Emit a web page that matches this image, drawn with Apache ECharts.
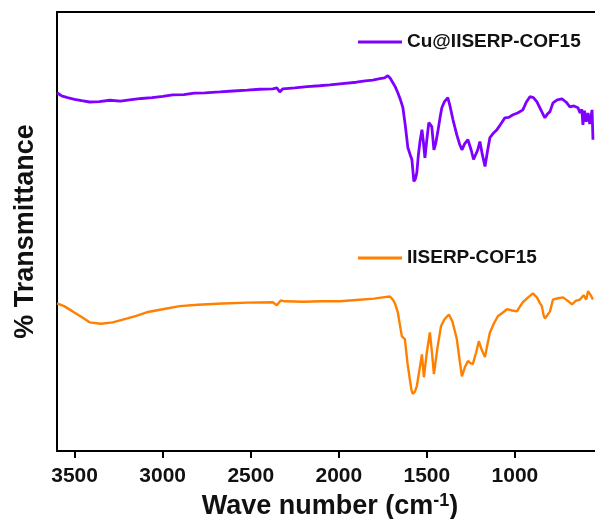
<!DOCTYPE html>
<html>
<head>
<meta charset="utf-8">
<script src="https://cdn.jsdelivr.net/npm/echarts@6/dist/echarts.min.js"></script>
<style>html,body{margin:0;padding:0;background:#fff}#c{width:595px;height:519px}</style>
</head>
<body>
<div id="c"></div>
<script>
// Cu@IISERP-COF15 spectrum (wavenumber, % transmittance, arbitrary offset)
var cuWave = [3600, 3574, 3540, 3500, 3460, 3415, 3360, 3300, 3240, 3188, 3120, 3060, 3000, 2943, 2880, 2820, 2760, 2676, 2600, 2520, 2450, 2375, 2352, 2335, 2318, 2250, 2180, 2110, 2051, 1980, 1900, 1850, 1807, 1767, 1740, 1722, 1708, 1693, 1680, 1665, 1650, 1636, 1622, 1608, 1595, 1585, 1574, 1565, 1557, 1548, 1540, 1528, 1520, 1511, 1500, 1489, 1480, 1472, 1460, 1450, 1438, 1425, 1415, 1400, 1381, 1370, 1352, 1330, 1315, 1301, 1285, 1267, 1248, 1235, 1227, 1212, 1199, 1185, 1170, 1155, 1142, 1120, 1102, 1080, 1057, 1035, 1011, 985, 955, 935, 915, 895, 875, 850, 830, 815, 801, 784, 760, 733, 710, 688, 665, 642, 630, 620, 614, 605, 595, 585, 575, 562, 557];
var cuT = [81.6, 80.9, 80.5, 80.1, 79.8, 79.5, 79.6, 79.9, 79.7, 80.0, 80.3, 80.5, 80.8, 81.1, 81.2, 81.5, 81.6, 81.8, 82.0, 82.2, 82.4, 82.5, 82.7, 81.8, 82.5, 82.7, 83.0, 83.2, 83.4, 83.7, 84.0, 84.3, 84.5, 84.8, 85.0, 85.5, 84.9, 83.9, 83.0, 81.6, 80.0, 78.2, 74.0, 69.1, 67.5, 66.4, 61.4, 62.0, 63.4, 67.5, 70.2, 73.2, 70.5, 66.8, 71.0, 74.8, 74.5, 73.9, 68.6, 70.0, 72.7, 76.0, 78.2, 79.6, 80.5, 78.8, 75.5, 72.0, 70.0, 68.6, 70.0, 70.9, 68.5, 66.4, 66.4, 68.5, 70.5, 67.5, 64.8, 68.5, 71.4, 72.5, 73.2, 74.5, 75.9, 76.0, 76.6, 77.0, 77.7, 79.5, 80.7, 80.5, 79.5, 77.5, 75.9, 76.8, 77.3, 79.3, 80.0, 80.2, 79.5, 78.4, 78.6, 78.2, 77.0, 77.8, 74.3, 77.5, 75.0, 77.0, 74.5, 77.7, 70.9];

// IISERP-COF15 spectrum
var cofWave = [3600, 3560, 3511, 3460, 3415, 3350, 3284, 3200, 3150, 3091, 3000, 2903, 2800, 2659, 2520, 2375, 2352, 2330, 2307, 2200, 2100, 1994, 1900, 1800, 1750, 1710, 1693, 1680, 1665, 1652, 1642, 1625, 1610, 1597, 1588, 1580, 1568, 1557, 1540, 1528, 1517, 1500, 1483, 1470, 1460, 1440, 1420, 1400, 1375, 1355, 1330, 1315, 1301, 1285, 1267, 1252, 1239, 1220, 1205, 1188, 1170, 1155, 1142, 1120, 1097, 1070, 1045, 1015, 989, 970, 955, 925, 898, 875, 860, 847, 838, 830, 815, 801, 784, 755, 727, 700, 676, 655, 631, 610, 595, 585, 570, 557];
var cofT = [33.6, 33.0, 31.8, 30.5, 29.3, 29.0, 29.3, 30.2, 30.8, 31.6, 32.3, 33.0, 33.3, 33.6, 33.8, 33.9, 33.2, 34.3, 34.1, 34.0, 34.1, 34.1, 34.4, 34.7, 35.0, 35.2, 34.5, 33.5, 31.6, 28.5, 26.1, 25.5, 20.0, 16.4, 14.0, 13.0, 13.5, 14.8, 19.0, 22.0, 16.8, 22.5, 27.0, 22.0, 17.5, 23.5, 28.4, 30.0, 31.1, 29.5, 25.5, 21.0, 17.0, 19.0, 20.5, 20.0, 19.8, 22.5, 25.0, 23.0, 21.4, 24.5, 27.0, 29.0, 30.7, 31.5, 32.3, 32.0, 31.8, 33.0, 33.9, 35.0, 35.9, 35.0, 33.8, 33.0, 31.0, 30.2, 31.0, 31.8, 34.5, 34.8, 35.0, 34.2, 33.4, 34.2, 34.5, 35.5, 34.5, 36.4, 35.5, 34.5];

var cuName = 'Cu@IISERP-COF15';
var cofName = 'IISERP-COF15';
var xTicksMin = 500, xTicksMax = 3600, xStep = 500;

function zip(a, b) { return a.map(function (v, i) { return [v, b[i]]; }); }

var chart = echarts.init(document.getElementById('c'));
var ff = '"Liberation Sans", Arial, sans-serif';
var xCommon = { type: 'value', inverse: true, min: xTicksMin, max: xTicksMax, interval: xStep, splitLine: { show: false } };
chart.setOption({
  animation: false,
  backgroundColor: '#fff',
  grid: { left: 57, right: -8, top: 12, bottom: 68, containLabel: false, outerBoundsMode: 'none' },
  legend: [
    { data: [cuName], left: 358, top: 32, padding: 0, itemWidth: 44, itemHeight: 3, icon: 'rect',
      textStyle: { fontFamily: ff, fontWeight: 'bold', fontSize: 19, color: '#111', lineHeight: 20 } },
    { data: [cofName], left: 358, top: 248, padding: 0, itemWidth: 44, itemHeight: 3, icon: 'rect',
      textStyle: { fontFamily: ff, fontWeight: 'bold', fontSize: 19, color: '#111', lineHeight: 20 } }
  ],
  xAxis: [
    Object.assign({}, xCommon, {
      position: 'bottom',
      axisLine: { show: true, onZero: false, lineStyle: { color: '#000', width: 2 } },
      axisTick: { show: true, length: 7, lineStyle: { color: '#000', width: 2 } },
      axisLabel: { showMinLabel: false, showMaxLabel: false, margin: 15, fontFamily: ff, fontWeight: 'bold', fontSize: 21, color: '#111',
        formatter: function (v) { return String(v); } },
      name: '{a|Wave number (cm}{b|-1}{a|)}', nameLocation: 'middle', nameGap: 41,
      nameTextStyle: { rich: {
        a: { fontFamily: ff, fontWeight: 'bold', fontSize: 27, color: '#111', lineHeight: 30 },
        b: { fontFamily: ff, fontWeight: 'bold', fontSize: 18, color: '#111', verticalAlign: 'top', lineHeight: 18 }
      } }
    }),
    Object.assign({}, xCommon, {
      position: 'top',
      axisLine: { show: true, onZero: false, lineStyle: { color: '#000', width: 2 } },
      axisTick: { show: false }, axisLabel: { show: false }
    })
  ],
  yAxis: {
    type: 'value', min: 0, max: 100,
    axisLine: { show: true, onZero: false, lineStyle: { color: '#000', width: 2 } },
    axisTick: { show: false }, axisLabel: { show: false }, splitLine: { show: false },
    name: '% Transmittance', nameLocation: 'middle', nameGap: 18,
    nameTextStyle: { fontFamily: ff, fontWeight: 'bold', fontSize: 27, color: '#111' }
  },
  series: [
    { name: cuName, type: 'line', xAxisIndex: 0, data: zip(cuWave, cuT), showSymbol: false, symbol: 'none',
      lineStyle: { color: '#8000ff', width: 2.8 }, itemStyle: { color: '#8000ff' } },
    { name: cofName, type: 'line', xAxisIndex: 0, data: zip(cofWave, cofT), showSymbol: false, symbol: 'none',
      lineStyle: { color: '#ff8000', width: 2.4 }, itemStyle: { color: '#ff8000' } }
  ]
});
</script>
</body>
</html>
